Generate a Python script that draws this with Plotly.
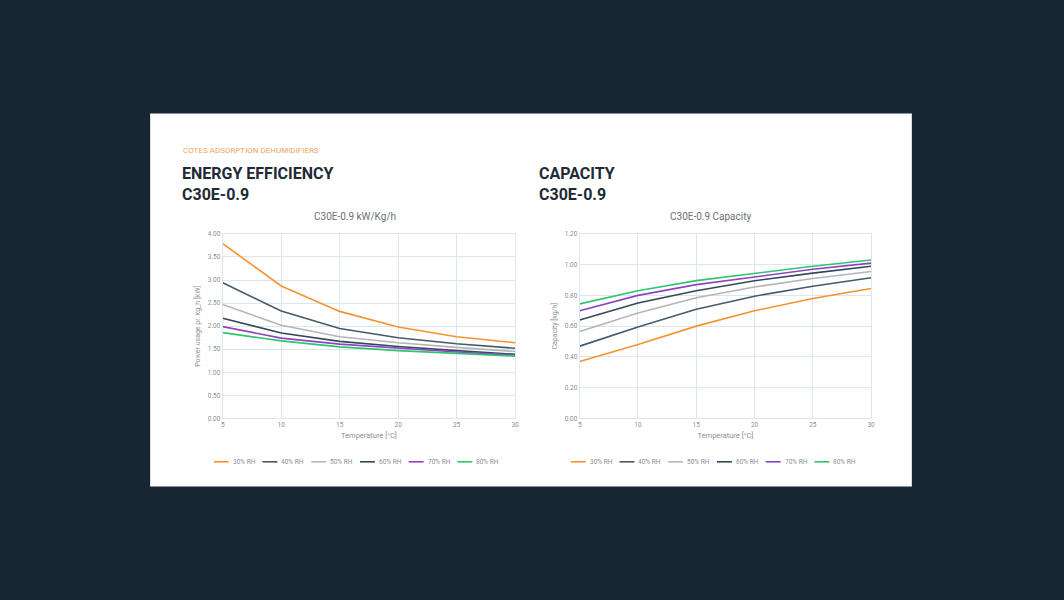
import plotly.graph_objects as go
from plotly.subplots import make_subplots

# Shared x axis: temperature in degrees C
temperature = [5, 10, 15, 20, 25, 30]

series_names = ["30% RH", "40% RH", "50% RH", "60% RH", "70% RH", "80% RH"]
series_colors = ["#F7922F", "#445B6B", "#B5B5B5", "#33495A", "#8E44C4", "#2FC56F"]

# Energy efficiency, kW per kg/h
power_30 = [3.79, 2.87, 2.32, 1.98, 1.77, 1.64]
power_40 = [2.94, 2.33, 1.95, 1.75, 1.62, 1.52]
power_50 = [2.47, 2.02, 1.77, 1.64, 1.54, 1.45]
power_60 = [2.17, 1.85, 1.67, 1.56, 1.47, 1.39]
power_70 = [1.99, 1.74, 1.61, 1.52, 1.44, 1.37]
power_80 = [1.86, 1.68, 1.55, 1.47, 1.41, 1.35]

# Capacity, kg/h
cap_30 = [0.37, 0.48, 0.60, 0.70, 0.78, 0.845]
cap_40 = [0.47, 0.595, 0.71, 0.795, 0.86, 0.915]
cap_50 = [0.565, 0.685, 0.785, 0.855, 0.91, 0.955]
cap_60 = [0.64, 0.75, 0.83, 0.895, 0.945, 0.99]
cap_70 = [0.70, 0.80, 0.87, 0.92, 0.97, 1.01]
cap_80 = [0.745, 0.83, 0.896, 0.943, 0.99, 1.03]

power_series = [power_30, power_40, power_50, power_60, power_70, power_80]
cap_series = [cap_30, cap_40, cap_50, cap_60, cap_70, cap_80]

W, H = 1064, 600
BG = "#182634"
GRID = "#DCE6F0"
TICK = "#8A8F96"
DARK = "#1E2A36"


def px(x):
    return x / W


def py(y):
    return 1 - y / H


fig = make_subplots(rows=1, cols=2)

for name, color, ys in zip(series_names, series_colors, power_series):
    fig.add_trace(go.Scatter(x=temperature, y=ys, name=name, mode="lines",
                             line=dict(color=color, width=1.6), showlegend=False),
                  row=1, col=1)

for name, color, ys in zip(series_names, series_colors, cap_series):
    fig.add_trace(go.Scatter(x=temperature, y=ys, name=name, mode="lines",
                             line=dict(color=color, width=1.6), showlegend=False),
                  row=1, col=2)

axis_common = dict(showgrid=True, gridcolor=GRID, gridwidth=1, showline=True,
                   linecolor=GRID, mirror=True, zeroline=False, ticks="",
                   tickfont=dict(family="Roboto", size=6.5, color=TICK))

fig.update_xaxes(axis_common, range=[5, 30], tickvals=temperature, ticklen=0,
                 title=dict(text="Temperature [°C]", standoff=4,
                            font=dict(family="Roboto", size=7.5, color=TICK)))
fig.update_xaxes(domain=[px(222), px(516)], row=1, col=1)
fig.update_xaxes(domain=[px(581), px(874)], row=1, col=2)

fig.update_yaxes(axis_common, domain=[py(420), py(233)])
fig.update_yaxes(range=[0, 4], dtick=0.5, tickformat=".2f",
                 title=dict(text="Power usage pr. kg_h [kW]", standoff=6,
                            font=dict(family="Roboto", size=7, color=TICK)),
                 row=1, col=1)
fig.update_yaxes(range=[0, 1.2], dtick=0.2, tickformat=".2f",
                 title=dict(text="Capacity [kg/h]", standoff=6,
                            font=dict(family="Roboto", size=7, color=TICK)),
                 row=1, col=2)

# white card behind the charts
fig.add_shape(type="rect", xref="paper", yref="paper", layer="below",
              x0=px(149), x1=px(915), y0=py(489), y1=py(111),
              fillcolor="white", line=dict(width=0))

annotations = [
    dict(x=px(180), y=py(148), text="COTES ADSORPTION DEHUMIDIFIERS",
         font=dict(family="Roboto", size=8, color="#F4A460"), xanchor="left"),
    dict(x=px(179), y=py(172), text="<b>ENERGY EFFICIENCY</b>",
         font=dict(family="Roboto", size=16, color=DARK), xanchor="left"),
    dict(x=px(179), y=py(193), text="<b>C30E-0.9</b>",
         font=dict(family="Roboto", size=16, color=DARK), xanchor="left"),
    dict(x=px(538), y=py(172), text="<b>CAPACITY</b>",
         font=dict(family="Roboto", size=16, color=DARK), xanchor="left"),
    dict(x=px(538), y=py(193), text="<b>C30E-0.9</b>",
         font=dict(family="Roboto", size=16, color=DARK), xanchor="left"),
    dict(x=px(355), y=py(215), text="C30E-0.9 kW/Kg/h",
         font=dict(family="Roboto", size=10, color="#6B7078"), xanchor="center"),
    dict(x=px(713), y=py(215), text="C30E-0.9 Capacity",
         font=dict(family="Roboto", size=10, color="#6B7078"), xanchor="center"),
]

# compact legends under each chart (short line + label)
for start in (213, 572):
    for i, (name, color) in enumerate(zip(series_names, series_colors)):
        x0 = start + i * 49
        fig.add_shape(type="line", xref="paper", yref="paper",
                      x0=px(x0), x1=px(x0 + 15), y0=py(464), y1=py(464),
                      line=dict(color=color, width=1.6))
        annotations.append(dict(x=px(x0 + 17), y=py(464), text=name,
                                font=dict(family="Roboto", size=6.5, color=TICK),
                                xanchor="left"))

for a in annotations:
    a.update(xref="paper", yref="paper", yanchor="middle", showarrow=False)

fig.update_layout(
    width=W, height=H,
    paper_bgcolor=BG, plot_bgcolor="white",
    margin=dict(l=0, r=0, t=0, b=0),
    annotations=annotations,
)

fig.write_html(
    "out.html",
    config={"displayModeBar": False},
    post_script=("document.body.style.margin='0';"
                 "document.body.style.overflow='hidden';"
                 "document.documentElement.style.overflow='hidden';"),
)
